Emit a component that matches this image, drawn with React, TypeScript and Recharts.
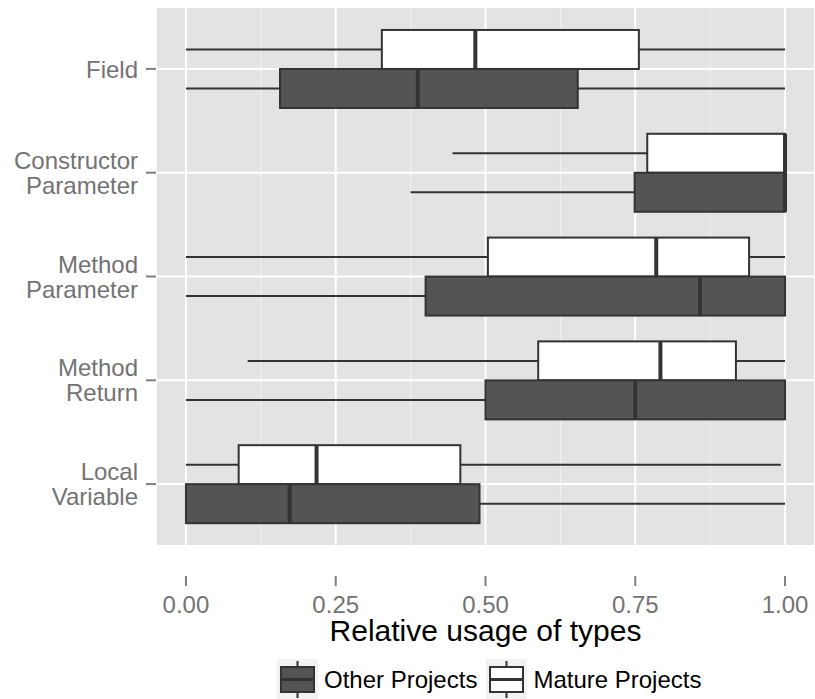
import React from 'react';
import { ComposedChart, Bar, XAxis, YAxis, CartesianGrid, Legend } from 'recharts';

const categories = ['Field', 'Constructor Parameter', 'Method Parameter', 'Method Return', 'Local Variable'];

// five-number summaries per category, mature projects
const matureMin = [0, 0.445, 0, 0.103, 0];
const matureQ1 = [0.327, 0.77, 0.504, 0.588, 0.088];
const matureMedian = [0.483, 1.0, 0.785, 0.792, 0.218];
const matureQ3 = [0.756, 1.0, 0.94, 0.918, 0.458];
const matureMax = [1.0, 1.0, 1.0, 1.0, 0.993];

// five-number summaries per category, other projects
const otherMin = [0, 0.375, 0, 0, 0];
const otherQ1 = [0.157, 0.749, 0.4, 0.5, 0];
const otherMedian = [0.387, 1.0, 0.858, 0.75, 0.173];
const otherQ3 = [0.654, 1.0, 1.0, 1.0, 0.49];
const otherMax = [1.0, 1.0, 1.0, 1.0, 1.0];

const majorTicks = [0, 0.25, 0.5, 0.75, 1];
const minorTicks = [0.125, 0.375, 0.625, 0.875];

const FONT = '"Liberation Sans", Arial, Helvetica, sans-serif';
const EDGE = '#333333';
const DARK = '#545454';
const PANEL = '#E3E3E3';
const AXIS_TEXT = '#737373';

type Stats = { min: number; q1: number; median: number; q3: number; max: number };

const data = categories.map((name, i) => ({
  name,
  mature: { min: matureMin[i], q1: matureQ1[i], median: matureMedian[i], q3: matureQ3[i], max: matureMax[i] } as Stats,
  other: { min: otherMin[i], q1: otherQ1[i], median: otherMedian[i], q3: otherQ3[i], max: otherMax[i] } as Stats,
}));

const legendItems = [
  { label: 'Other Projects', fill: DARK },
  { label: 'Mature Projects', fill: '#FFFFFF' },
];

// the bar spans min..max, so inner stats are placed proportionally along it
const BoxShape = (props: any) => {
  const { x, y, width, height, payload, stats, boxFill } = props;
  const s: Stats = payload[stats];
  const span = s.max - s.min;
  const px = (v: number) => (span === 0 ? x : x + ((v - s.min) / span) * width);
  const cy = y + height / 2;
  return (
    <g>
      <line x1={px(s.min)} x2={px(s.q1)} y1={cy} y2={cy} stroke={EDGE} strokeWidth={2} />
      <line x1={px(s.q3)} x2={px(s.max)} y1={cy} y2={cy} stroke={EDGE} strokeWidth={2} />
      <rect
        x={px(s.q1)}
        y={y}
        width={Math.max(px(s.q3) - px(s.q1), 0)}
        height={height}
        fill={boxFill}
        stroke={EDGE}
        strokeWidth={2}
      />
      <line x1={px(s.median)} x2={px(s.median)} y1={y} y2={y + height} stroke={EDGE} strokeWidth={4} />
    </g>
  );
};

const CategoryTick = (props: any) => {
  const { x, y, payload } = props;
  const lines = String(payload.value).split(' ');
  const lineGap = 25;
  const first = y - ((lines.length - 1) * lineGap) / 2 + 8.6;
  return (
    <text x={x} y={first} textAnchor="end" fill={AXIS_TEXT} fontSize={24} fontFamily={FONT}>
      {lines.map((ln, i) => (
        <tspan key={ln} x={x} dy={i === 0 ? 0 : lineGap}>
          {ln}
        </tspan>
      ))}
    </text>
  );
};

const KeyIcon = ({ fill }: { fill: string }) => (
  <svg width={41} height={41} style={{ display: 'block' }}>
    <rect x={0} y={0} width={41} height={41} fill="#F2F2F2" />
    <line x1={20.5} x2={20.5} y1={2} y2={8} stroke={EDGE} strokeWidth={2} />
    <line x1={20.5} x2={20.5} y1={33} y2={39} stroke={EDGE} strokeWidth={2} />
    <rect x={4} y={8} width={33} height={25} fill={fill} stroke={EDGE} strokeWidth={2} />
    <line x1={4} x2={37} y1={20.5} y2={20.5} stroke={EDGE} strokeWidth={3} />
  </svg>
);

const BoxLegend = () => (
  <div
    style={{
      display: 'flex',
      alignItems: 'center',
      paddingLeft: 277,
      paddingTop: 43,
      fontFamily: FONT,
      fontSize: 24,
      color: '#000',
    }}
  >
    {legendItems.map((it) => (
      <div key={it.label} style={{ display: 'flex', alignItems: 'center', marginRight: 9 }}>
        <KeyIcon fill={it.fill} />
        <span style={{ marginLeft: 6, lineHeight: '41px', whiteSpace: 'nowrap' }}>{it.label}</span>
      </div>
    ))}
  </div>
);

export default function App() {
  return (
    <div style={{ position: 'absolute', left: 0, top: 0, width: 815, height: 699, background: '#fff' }}>
      <ComposedChart
        width={815}
        height={699}
        data={data}
        layout="vertical"
        margin={{ top: 7, right: 0, bottom: 0, left: 0 }}
        barCategoryGap="12.5%"
        barGap={0}
      >
        <CartesianGrid xAxisId="minor" horizontal={false} fill={PANEL} stroke="#F2F2F2" strokeWidth={1} />
        <CartesianGrid xAxisId="x" fill="none" stroke="#FFFFFF" strokeWidth={2} />
        <XAxis
          xAxisId="minor"
          type="number"
          domain={[-0.05, 1.05]}
          ticks={minorTicks}
          allowDataOverflow
          hide
        />
        <XAxis
          xAxisId="x"
          type="number"
          domain={[-0.05, 1.05]}
          ticks={majorTicks}
          allowDataOverflow
          height={70}
          tickFormatter={(v: number) => v.toFixed(2)}
          tick={{ fill: AXIS_TEXT, fontSize: 24, fontFamily: FONT }}
          tickSize={10}
          tickMargin={10}
          tickLine={{ stroke: '#7F7F7F', strokeWidth: 2 }}
          axisLine={false}
          label={{
            value: 'Relative usage of types',
            position: 'insideBottom',
            offset: 5,
            fontSize: 30,
            fontFamily: FONT,
            fill: '#000',
          }}
        />
        <YAxis
          type="category"
          dataKey="name"
          width={156}
          padding={{ top: 10, bottom: 10 }}
          tick={<CategoryTick />}
          tickSize={10}
          tickMargin={8}
          tickLine={{ stroke: '#7F7F7F', strokeWidth: 2 }}
          axisLine={false}
          interval={0}
        />
        <Legend verticalAlign="bottom" align="left" height={83} content={() => <BoxLegend />} />
        <Bar
          xAxisId="x"
          dataKey={(d: any) => [d.mature.min, d.mature.max]}
          name="Mature Projects"
          isAnimationActive={false}
          shape={(p: any) => <BoxShape {...p} stats="mature" boxFill="#FFFFFF" />}
        />
        <Bar
          xAxisId="x"
          dataKey={(d: any) => [d.other.min, d.other.max]}
          name="Other Projects"
          isAnimationActive={false}
          shape={(p: any) => <BoxShape {...p} stats="other" boxFill={DARK} />}
        />
      </ComposedChart>
    </div>
  );
}
